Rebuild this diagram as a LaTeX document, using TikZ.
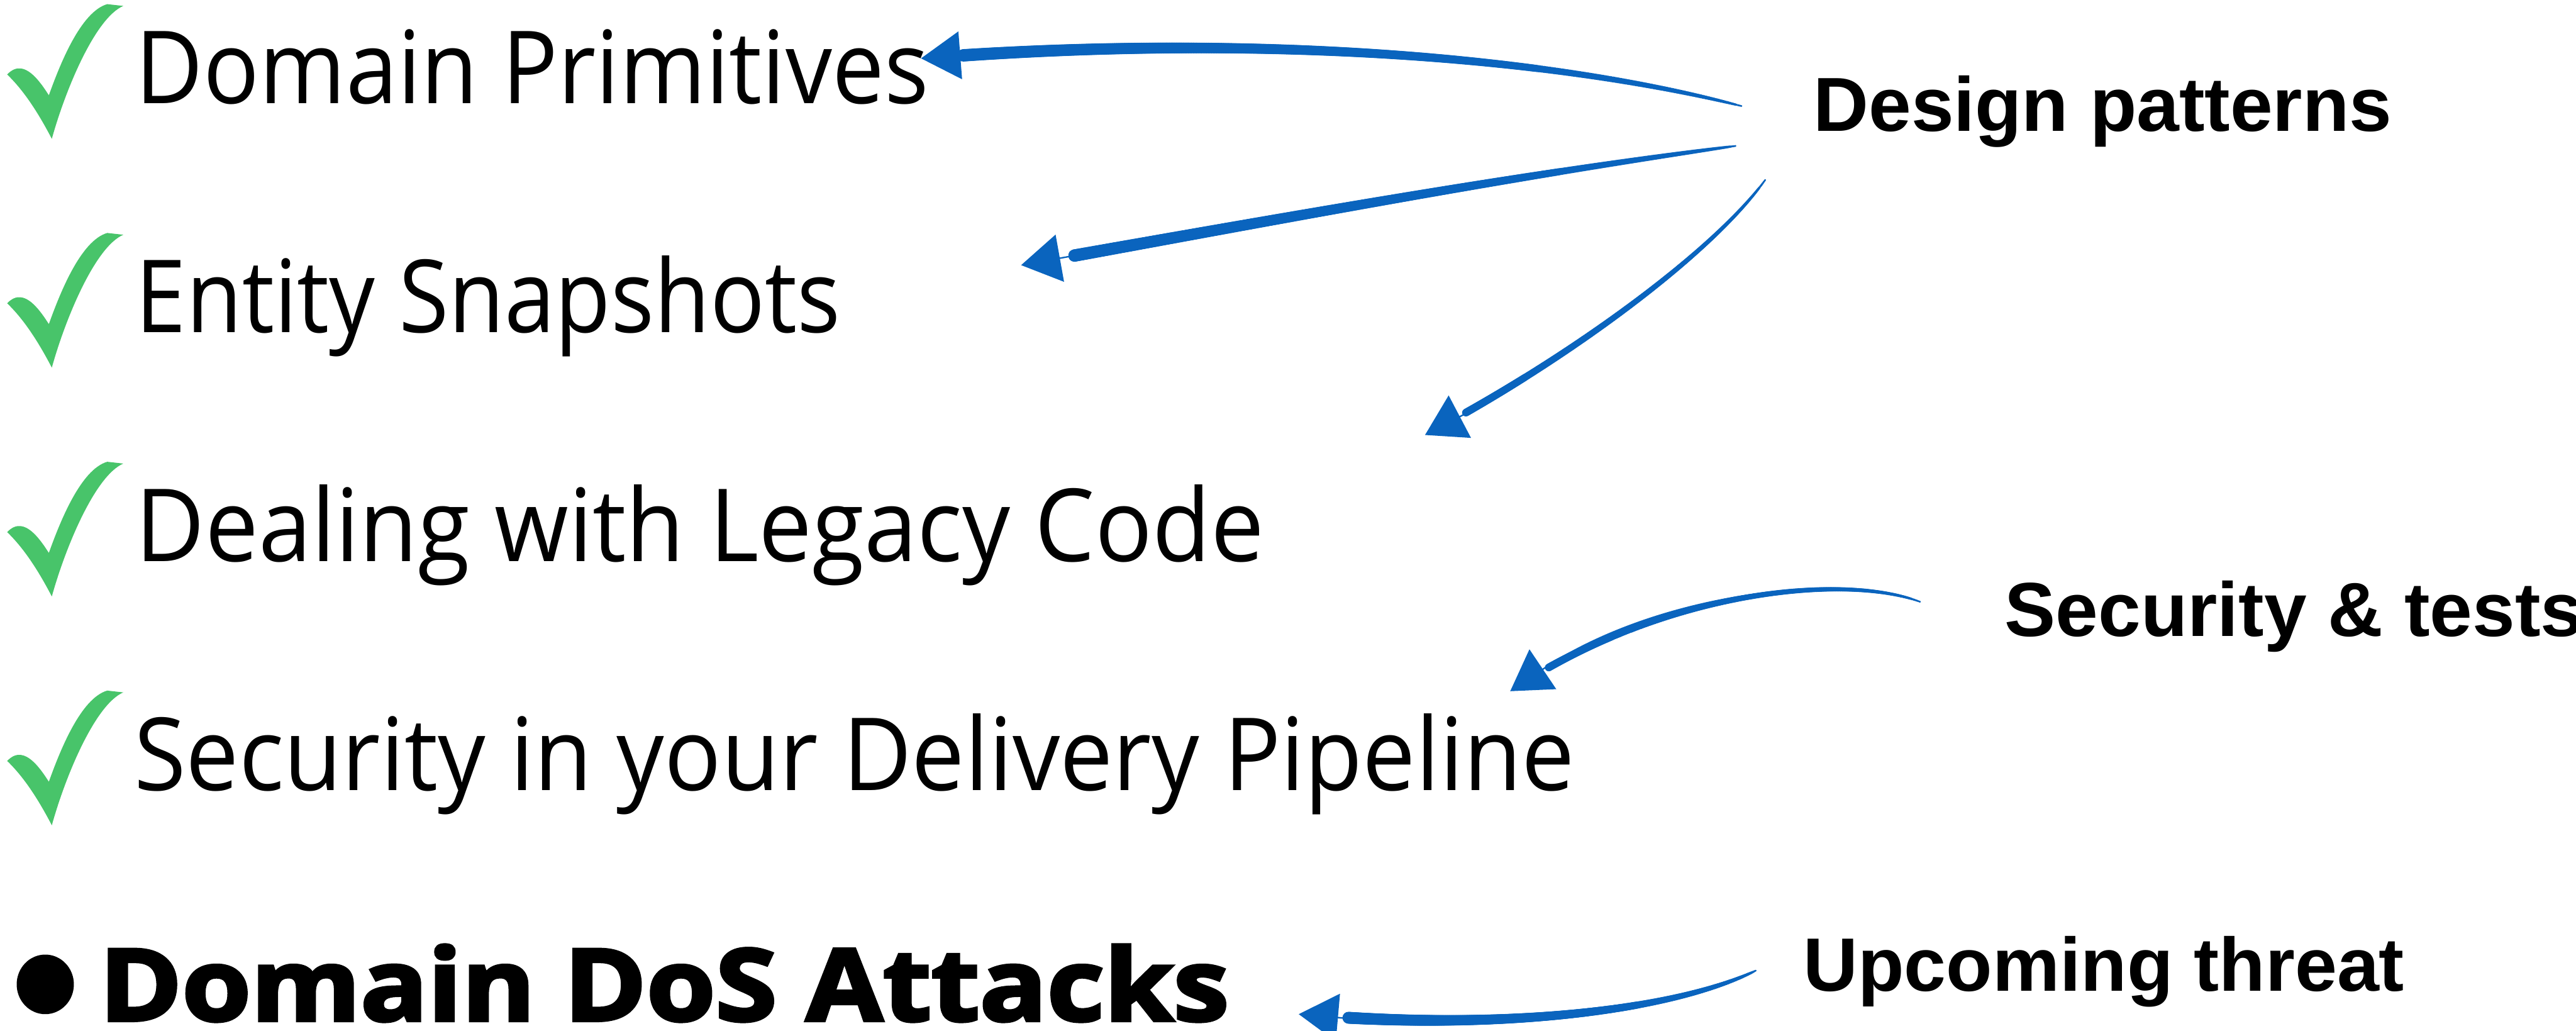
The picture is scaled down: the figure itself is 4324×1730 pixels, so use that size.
\documentclass[tikz,border=0pt]{standalone}
\usepackage{fontspec}
\usepackage{graphicx}
\usetikzlibrary{arrows.meta,decorations.markings}
\setmainfont{Open Sans}
\newfontfamily\heavyfont{Open Sans}[BoldFeatures={FakeBold=3}]
\newfontfamily\labelfont{Liberation Sans}
\definecolor{arrowblue}{RGB}{10,100,190}
\definecolor{tickgreen}{RGB}{72,196,106}
% one unit = one pixel of the layout grid
\newlength\pxu
\setlength\pxu{0.1pt}
\newcommand\fitw[2]{\resizebox{#1\pxu}{\height}{#2}}

\tikzset{
  item/.style={anchor=base west, inner sep=0pt, font=\fontsize{16.95pt}{20pt}\selectfont},
  hot/.style={anchor=base west, inner sep=0pt, font=\heavyfont\bfseries\fontsize{16.8pt}{20pt}\selectfont},
  note/.style={anchor=base west, inner sep=0pt, font=\labelfont\bfseries\fontsize{12.85pt}{15pt}\selectfont},
  % tapered brush stroke: #1 = end radius, #2 = fraction of the path that is brushed
  brush/.style n args={2}{
    draw=arrowblue, line width=0.25pt,
    -{Triangle[length=6.6pt,width=8pt]},
    decoration={markings,
      mark=between positions 0 and #2 step 0.002 with {
        \fill[arrowblue] (0,0) circle[radius={0.12pt+(#1-0.12pt)*sqrt(\pgfkeysvalueof{/pgf/decoration/mark info/sequence number}*0.002/#2)}];
      }},
    postaction={decorate}},
  greentick/.pic={
    \fill[tickgreen] (12,125) .. controls (20,117) and (27,114) .. (35,115)
      .. controls (52,117) and (68,138) .. (82,160)
      .. controls (100,110) and (135,20) .. (180,7) -- (207,10)
      .. controls (160,30) and (110,150) .. (87,233)
      .. controls (62,185) and (38,150) .. (12,125) -- cycle;
  }
}

\begin{document}
\begin{tikzpicture}[x=0.1pt, y=-0.1pt]
\useasboundingbox (0,0) rectangle (4324,1730);

% check marks in front of the finished items
\foreach \row in {0,1,2,3} {
  \pic at (0,{384*\row}) {greentick};
}
% bullet of the upcoming item
\fill (76,1652) circle[x radius=4.8pt, y radius=5pt];

% list items
\node[item] (prim)   at (226,174)  {\fitw{1331}{Domain Primitives}};
\node[item] (snap)   at (226,558)  {\fitw{1183}{Entity Snapshots}};
\node[item] (legacy) at (226,942)  {\fitw{1894}{Dealing with Legacy Code}};
\node[item] (pipe)   at (223,1326) {\fitw{2418}{Security in your Delivery Pipeline}};
\node[hot]  (dos)    at (165,1713) {\fitw{1896}{Domain DoS Attacks}};

% side labels
\node[note] (design)   at (3042,220)  {Design patterns};
\node[note] (sectests) at (3363,1068) {Security \& tests};
\node[note, font=\labelfont\bfseries\fontsize{12.7pt}{15pt}\selectfont] (threat) at (3025,1663) {Upcoming threat};

% connector end points
\coordinate (d1) at (2923,178);
\coordinate (d2) at (2913,245);
\coordinate (d3) at (2963,302);
\coordinate (s1) at (3223,1010);
\coordinate (u1) at (2947,1629);
\coordinate (prim-in)   at (1546,98);
\coordinate (snap-in)   at (1714,445);
\coordinate (legacy-in) at (2392,730);
\coordinate (pipe-in)   at (2535,1160);
\coordinate (dos-in)    at (2180,1702);

% brush arrows
\path[brush={1.05pt}{0.94}]  (d1) .. controls (2600,95) and (2100,55) .. (prim-in);
\path[brush={1.05pt}{0.935}] (d2) .. controls (2540,295) and (2160,365) .. (snap-in);
\path[brush={0.65pt}{0.9}]   (d3) .. controls (2870,430) and (2620,610) .. (legacy-in);
\path[brush={0.65pt}{0.9}]   (s1) .. controls (3090,960) and (2780,995) .. (pipe-in);
\path[brush={1.0pt}{0.9}]    (u1) .. controls (2800,1700) and (2500,1730) .. (dos-in);
\end{tikzpicture}
\end{document}
